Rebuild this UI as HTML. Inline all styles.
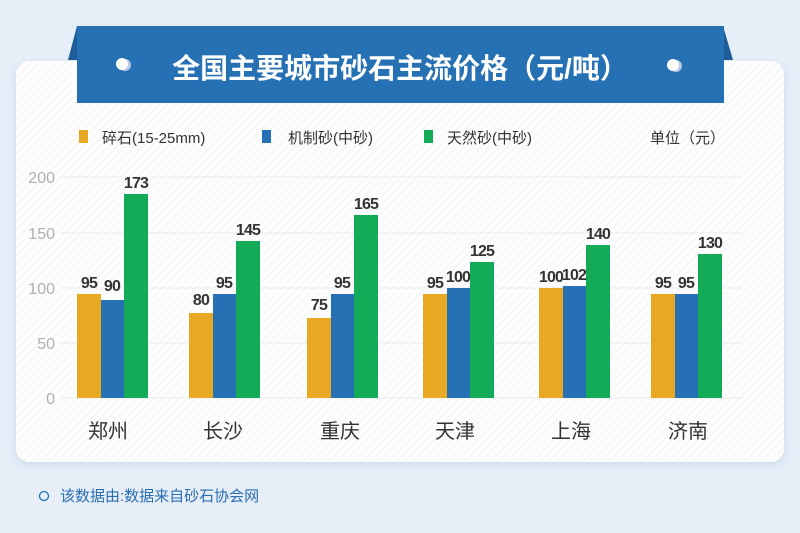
<!DOCTYPE html>
<html><head><meta charset="utf-8"><style>
html,body{margin:0;padding:0;}
body{width:800px;height:533px;background:#e6eef8;position:relative;overflow:hidden;font-family:"Liberation Sans","Noto Sans CJK SC",sans-serif;}
svg{position:absolute;left:0;top:0;}
</style></head><body>
<svg width="800" height="533" viewBox="0 0 800 533" xmlns="http://www.w3.org/2000/svg">
<defs>
<pattern id="st" width="6" height="6" patternUnits="userSpaceOnUse" patternTransform="rotate(45)">
<rect width="6" height="6" fill="#fdfdfd"/><rect width="1" height="6" fill="#f3f4f6"/>
</pattern>
<filter id="sh" x="-5%" y="-5%" width="110%" height="115%"><feDropShadow dx="0" dy="3" stdDeviation="4" flood-color="#9fb4cf" flood-opacity="0.35"/></filter>
</defs>
<rect x="16" y="61" width="768" height="401" rx="13" fill="url(#st)" filter="url(#sh)"/>
<polygon points="77,26 68,60 77,60" fill="#1e5d98"/>
<polygon points="723,26 733,60 723,60" fill="#1e5d98"/>
<rect x="77" y="26" width="647" height="77" fill="#2670b4"/>
<circle cx="125" cy="65" r="6" fill="#b7c9e2"/><circle cx="122" cy="64" r="6" fill="#fff"/>
<circle cx="676" cy="66" r="6" fill="#b7c9e2"/><circle cx="673" cy="65" r="6" fill="#fff"/>
<text x="400" y="78" text-anchor="middle" font-size="28" font-weight="bold" fill="#fff">全国主要城市砂石主流价格（元/吨）</text>
<g font-size="15" fill="#333">
<rect x="79" y="130" width="9" height="13" fill="#e8a822"/><text x="102" y="143">碎石(15-25mm)</text>
<rect x="262" y="130" width="9" height="13" fill="#2670b4"/><text x="288" y="143">机制砂(中砂)</text>
<rect x="424" y="130" width="9" height="13" fill="#14ab58"/><text x="447" y="143">天然砂(中砂)</text>
<text x="725" y="143" text-anchor="end">单位（元）</text>
</g>
<g stroke="#ececec" stroke-width="1">
<line x1="60" y1="177" x2="742" y2="177"/><line x1="60" y1="233" x2="742" y2="233"/>
<line x1="60" y1="288" x2="742" y2="288"/><line x1="60" y1="343" x2="742" y2="343"/>
<line x1="60" y1="398" x2="742" y2="398"/>
</g>
<g font-size="16" fill="#b0b0b0" text-anchor="end">
<text x="55" y="183">200</text><text x="55" y="239">150</text><text x="55" y="294">100</text><text x="55" y="349">50</text><text x="55" y="404">0</text>
</g>
<g>
<rect x="77" y="294" width="24" height="104" fill="#e8a822"/><rect x="101" y="300" width="23" height="98" fill="#2670b4"/><rect x="124" y="194" width="24" height="204" fill="#14ab58"/>
<rect x="189" y="313" width="24" height="85" fill="#e8a822"/><rect x="213" y="294" width="23" height="104" fill="#2670b4"/><rect x="236" y="241" width="24" height="157" fill="#14ab58"/>
<rect x="307" y="318" width="24" height="80" fill="#e8a822"/><rect x="331" y="294" width="23" height="104" fill="#2670b4"/><rect x="354" y="215" width="24" height="183" fill="#14ab58"/>
<rect x="423" y="294" width="24" height="104" fill="#e8a822"/><rect x="447" y="288" width="23" height="110" fill="#2670b4"/><rect x="470" y="262" width="24" height="136" fill="#14ab58"/>
<rect x="539" y="288" width="24" height="110" fill="#e8a822"/><rect x="563" y="286" width="23" height="112" fill="#2670b4"/><rect x="586" y="245" width="24" height="153" fill="#14ab58"/>
<rect x="651" y="294" width="24" height="104" fill="#e8a822"/><rect x="675" y="294" width="23" height="104" fill="#2670b4"/><rect x="698" y="254" width="24" height="144" fill="#14ab58"/>
</g>
<g font-size="16" font-weight="bold" fill="#333" text-anchor="middle" letter-spacing="-0.8">
<text x="89" y="288">95</text><text x="112" y="291">90</text><text x="136" y="188">173</text>
<text x="201" y="305">80</text><text x="224" y="288">95</text><text x="248" y="235">145</text>
<text x="319" y="310">75</text><text x="342" y="288">95</text><text x="366" y="209">165</text>
<text x="435" y="288">95</text><text x="458" y="282">100</text><text x="482" y="256">125</text>
<text x="551" y="282">100</text><text x="574" y="280">102</text><text x="598" y="239">140</text>
<text x="663" y="288">95</text><text x="686" y="288">95</text><text x="710" y="248">130</text>
</g>
<g font-size="20" fill="#333" text-anchor="middle">
<text x="108" y="438">郑州</text><text x="223" y="438">长沙</text><text x="340" y="438">重庆</text>
<text x="455" y="438">天津</text><text x="571" y="438">上海</text><text x="688" y="438">济南</text>
</g>
<circle cx="44" cy="496" r="4.5" fill="none" stroke="#2a6db0" stroke-width="1.3"/>
<text x="60" y="501" font-size="15" fill="#2a6db0">该数据由:数据来自砂石协会网</text>
</svg>
</body></html>
